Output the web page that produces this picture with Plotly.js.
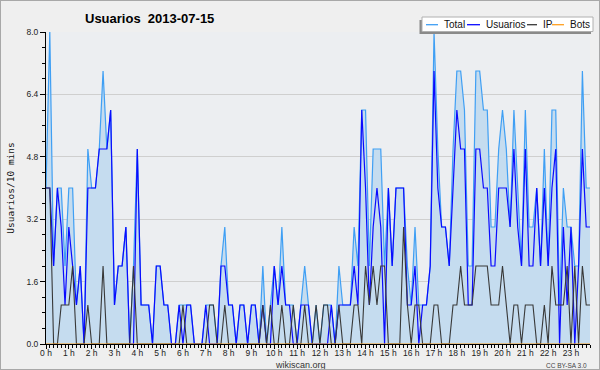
<!DOCTYPE html>
<html>
<head>
<meta charset="utf-8">
<script src="https://cdn.plot.ly/plotly-3.0.1.min.js"></script>
<style>
html,body{margin:0;padding:0;background:#efefef;}
#wrap{position:relative;width:600px;height:370px;}
#chart{width:600px;height:370px;}
#frame{position:absolute;left:0;top:0;width:600px;height:370px;box-sizing:border-box;border:1px solid #a8a8a8;pointer-events:none;}
</style>
</head>
<body>
<div id="wrap"><div id="chart"></div><div id="frame"></div></div>
<script>
// 144 ten-minute slots, 0 h .. 23 h 50
const hourLabels = ["0 h","1 h","2 h","3 h","4 h","5 h","6 h","7 h","8 h","9 h","10 h","11 h","12 h","13 h","14 h","15 h","16 h","17 h","18 h","19 h","20 h","21 h","22 h","23 h"];

const total = [
 4,8,2,4,4,2,4,4,1,2,0,5,4,4,5,7,5,6,1,2,2,3,0,2,
 5,1,1,1,0,2,2,1,1,0,0,1,1,1,1,0,0,0,1,1,1,0,2,3,
 1,1,0,1,1,0,1,1,0,2,0,1,2,1,3,1,1,1,0,1,2,1,0,1,
 0,1,1,1,0,2,1,1,1,3,2,6,6,2,5,5,5,2,4,2,4,4,4,2,
 1,3,1,1,1,2,8,5,3,3,2,5,7,7,6,2,2,7,7,6,6,3,3,5,
 6,5,3,6,4,2,6,3,3,4,2,5,2,6,6,1,4,3,3,2,2,7,4,4
];
const usuarios = [
 4,4,2,4,3,1,3,2,1,2,0,4,4,4,5,5,5,6,1,2,2,3,0,0,
 5,1,1,1,0,2,2,1,1,0,0,1,0,1,1,0,0,0,1,0,0,0,2,2,
 1,1,0,1,1,0,1,1,0,1,0,0,2,1,2,1,1,0,0,1,1,1,0,0,
 0,0,0,1,0,1,1,1,1,2,1,6,4,1,3,4,3,0,4,2,4,4,4,1,
 1,2,0,1,1,2,7,4,3,3,2,4,6,5,5,1,1,5,5,4,4,2,2,4,
 4,4,3,5,3,2,5,2,2,4,2,4,2,4,5,0,3,1,3,0,2,5,3,3
];
const ip = [
 4,4,0,0,1,1,1,2,0,0,0,1,0,0,0,2,0,0,0,0,0,0,0,2,
 0,0,0,0,0,0,0,0,0,0,0,0,1,0,0,0,0,0,0,1,1,0,0,1,
 0,0,0,0,0,0,0,0,0,1,0,1,0,0,1,0,0,1,0,0,1,0,0,1,
 0,1,1,0,0,1,0,0,0,1,1,0,2,1,2,1,2,2,0,0,0,0,3,1,
 0,1,1,0,0,0,1,1,0,0,0,1,1,2,1,1,1,2,2,2,2,1,1,1,
 2,1,0,1,1,0,1,1,1,0,0,1,0,2,1,1,1,2,0,2,0,2,1,1
];
const bots = new Array(144).fill(0);

const slots = total.map((_, i) => i);
const hourTicks = hourLabels.map((_, h) => h * 6);

const colTotal = '#3f9ff4', colUsu = '#0a0aff', colIP = '#383838', colBots = '#ffa020';

const traces = [
  {x: slots, y: total, type: 'scatter', mode: 'lines', name: 'Total',
   line: {color: colTotal, width: 1.2}, fill: 'tozeroy', fillcolor: '#c5dcef'},
  {x: slots, y: usuarios, type: 'scatter', mode: 'lines', name: 'Usuarios',
   line: {color: colUsu, width: 1.2}},
  {x: slots, y: ip, type: 'scatter', mode: 'lines', name: 'IP',
   line: {color: colIP, width: 1.1}},
  {x: slots, y: bots, type: 'scatter', mode: 'lines', name: 'Bots',
   line: {color: colBots, width: 1.1}}
];

// legend drawn manually (pixel -> paper helpers)
const L = 46, R = 590, T = 32, B = 344;
const px = v => (v - L) / (R - L);
const py = v => (B - v) / (B - T);

const legendItems = [
  {name: 'Total', color: colTotal, x0: 426, x1: 438, tx: 442},
  {name: 'Usuarios', color: colUsu, x0: 467, x1: 480, tx: 484},
  {name: 'IP', color: colIP, x0: 527, x1: 537, tx: 541},
  {name: 'Bots', color: colBots, x0: 552, x1: 564, tx: 568}
];
const legY = 24.7;
const shapes = [
  {type: 'rect', xref: 'paper', yref: 'paper', x0: px(419.5), x1: px(591), y0: py(20), y1: py(34), fillcolor: '#8a8a8a', line: {width: 0}, layer: 'above'},
  {type: 'rect', xref: 'paper', yref: 'paper', x0: px(422), x1: px(593), y0: py(17), y1: py(31.5), fillcolor: '#ffffff', line: {color: '#b0b0b0', width: 1}, layer: 'above'}
];
const annotations = [];
legendItems.forEach(it => {
  shapes.push({type: 'line', xref: 'paper', yref: 'paper', x0: px(it.x0), x1: px(it.x1), y0: py(legY), y1: py(legY), line: {color: it.color, width: 1.3}, layer: 'above'});
  annotations.push({xref: 'paper', yref: 'paper', x: px(it.tx), y: py(legY), xanchor: 'left', yanchor: 'middle', showarrow: false, text: it.name, font: {family: 'Liberation Sans, Arial, sans-serif', size: 10, color: '#111'}});
});
annotations.push({xref: 'paper', yref: 'paper', x: px(300), y: py(364.5), xanchor: 'center', yanchor: 'middle', showarrow: false, text: 'wikiscan.org', font: {family: 'Liberation Sans, Arial, sans-serif', size: 9, color: '#333'}});
annotations.push({xref: 'paper', yref: 'paper', x: px(589), y: py(365.5), xanchor: 'right', yanchor: 'middle', showarrow: false, text: 'CC BY-SA 3.0', font: {family: 'Liberation Sans, Arial, sans-serif', size: 6.5, color: '#444'}});

const layout = {
  width: 600, height: 370,
  margin: {l: L, r: 600 - R, t: T, b: 370 - B, pad: 0},
  paper_bgcolor: '#efefef',
  plot_bgcolor: '#eceef1',
  showlegend: false,
  title: {text: '<b>Usuarios\u00a0\u00a02013-07-15</b>', x: 85 / 600, xref: 'container', xanchor: 'left', y: 1 - 18.5 / 370, yref: 'container', yanchor: 'middle',
          font: {family: 'Liberation Sans, Arial, sans-serif', size: 13, color: '#000'}},
  xaxis: {
    range: [0, 143], fixedrange: true,
    tickvals: hourTicks, ticktext: hourLabels,
    ticks: 'outside', ticklen: 4, tickcolor: '#000', tickwidth: 1,
    minor: {dtick: 1, tick0: 0, ticks: 'outside', ticklen: 3, tickcolor: '#000', showgrid: false},
    showgrid: false, zeroline: false,
    showline: true, linecolor: '#000', linewidth: 1,
    tickfont: {family: 'Liberation Sans, Arial, sans-serif', size: 8.5, color: '#222'},
    ticklabelstandoff: -3
  },
  yaxis: {
    range: [0, 8], fixedrange: true,
    tick0: 0, dtick: 1.6, tickformat: '.1f',
    ticks: 'outside', ticklen: 5, tickcolor: '#000', tickwidth: 1,
    minor: {dtick: 0.4, tick0: 0, ticks: 'outside', ticklen: 3, tickcolor: '#000', showgrid: false},
    showgrid: true, gridcolor: '#cfcfcf', gridwidth: 1,
    zeroline: false, showline: true, linecolor: '#000', linewidth: 1,
    tickfont: {family: 'Liberation Sans, Arial, sans-serif', size: 8.5, color: '#222'},
    title: {text: 'Usuarios/10 mins', standoff: 10, font: {family: 'DejaVu Sans Mono, monospace', size: 9.5, color: '#111'}}
  },
  shapes: shapes,
  annotations: annotations
};

Plotly.newPlot('chart', traces, layout, {displayModeBar: false, staticPlot: true});
</script>
</body>
</html>
